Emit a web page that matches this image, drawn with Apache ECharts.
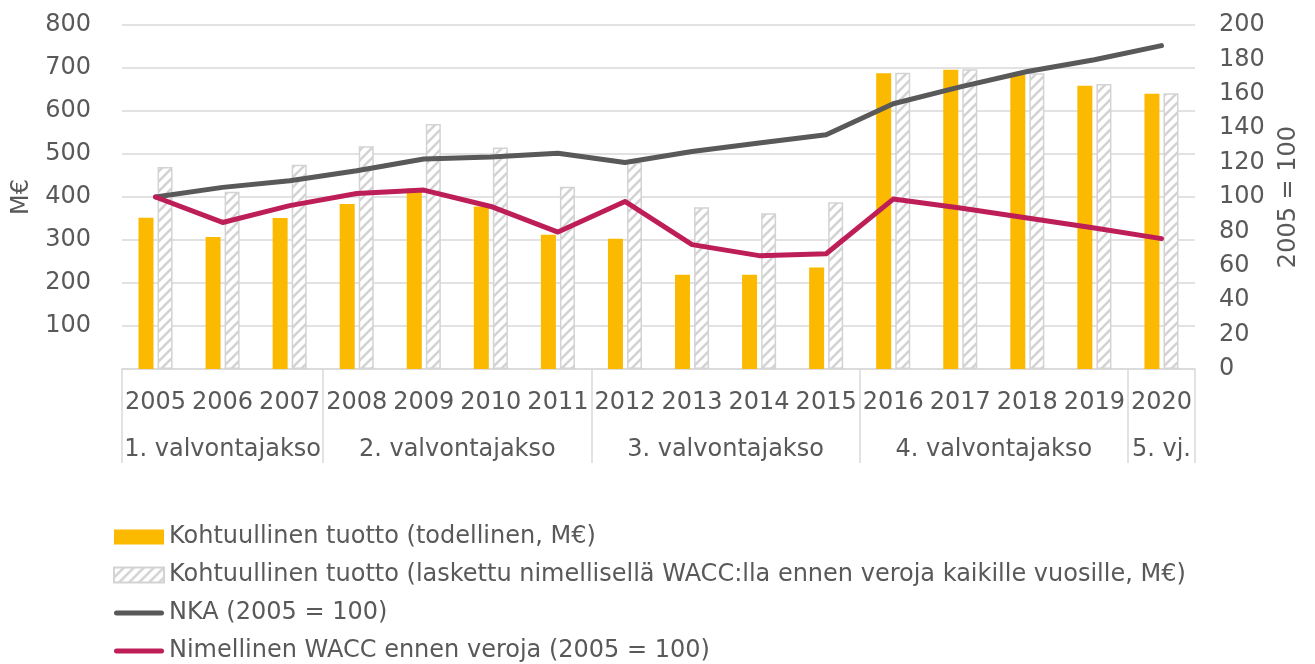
<!DOCTYPE html>
<html>
<head>
<meta charset="utf-8">
<script src="https://cdn.jsdelivr.net/npm/echarts@6/dist/echarts.min.js"></script>
<style>
html,body{margin:0;padding:0;background:#fff;}
#c{width:1315px;height:664px;}
</style>
</head>
<body>
<div id="c"></div>
<script>
const years = ['2005','2006','2007','2008','2009','2010','2011','2012','2013','2014','2015','2016','2017','2018','2019','2020'];
const periods = ['1. valvontajakso','2. valvontajakso','3. valvontajakso','4. valvontajakso','5. vj.'];
const periodLengths = [3,4,4,4,1];
const tuottoActual = [352,307,351,384,420,378,312,303,219,219,236,688,696,684,659,640];
const tuottoWacc = [470,412,475,518,570,515,424,480,376,362,388,689,697,688,663,641];
const nka = [100,105.6,109.5,115.3,122.1,123.2,125.4,120.1,126.5,131.4,136.2,154.2,164,173,179.8,188];
const wacc = [100,85.2,95,102,104,94.5,79.6,97.4,72.3,65.9,67,98.8,93.6,87.8,82,75.8];
const leftTicks = {min:0,max:800,interval:100};
const rightTicks = {min:0,max:200,interval:20};
const names = ['Kohtuullinen tuotto (todellinen, M€)',
  'Kohtuullinen tuotto (laskettu nimellisellä WACC:lla ennen veroja kaikille vuosille, M€)',
  'NKA (2005 = 100)',
  'Nimellinen WACC ennen veroja (2005 = 100)'];

const boundaries = [];
const centers = {};
let acc = 0;
periodLengths.forEach((len,i)=>{ boundaries.push(acc); centers[(acc + len/2).toFixed(2)] = periods[i]; acc += len; });

// hatch pattern
const P = 10;
const pc = document.createElement('canvas');
pc.width = P; pc.height = P;
const g = pc.getContext('2d');
g.fillStyle = '#ffffff'; g.fillRect(0,0,P,P);
g.strokeStyle = '#d3d3d3'; g.lineWidth = 2.6;
g.beginPath();
g.moveTo(-2,P+2); g.lineTo(P+2,-2);
g.moveTo(-2,2); g.lineTo(2,-2);
g.moveTo(P-2,P+2); g.lineTo(P+2,P-2);
g.stroke();

const FONT = 'DejaVu Sans';
const TXT = '#595959';
const FS = 24;
const lineIcon = 'path://M2.5,0 L47.5,0 A2.5,2.5 0 0 1 47.5,5 L2.5,5 A2.5,2.5 0 0 1 2.5,0 Z';
const chart = echarts.init(document.getElementById('c'), null, {renderer:'canvas'});
chart.setOption({
  animation:false,
  textStyle:{fontFamily:FONT},
  grid:{left:122,right:120,top:25,bottom:295,containLabel:false},
  legend:{
    orient:'vertical', left:113, top:525, height:160, padding:0,
    itemWidth:50, itemHeight:15, itemGap:14,
    textStyle:{fontFamily:FONT,fontSize:FS,color:TXT,lineHeight:24},
    data:[
      {name:names[0], icon:'rect'},
      {name:names[1], icon:'rect'},
      {name:names[2], icon:lineIcon},
      {name:names[3], icon:lineIcon}
    ]
  },
  xAxis:[{
    type:'category', data:years, boundaryGap:true,
    axisLine:{show:true,lineStyle:{color:'#d9d9d9',width:1.5}},
    axisTick:{show:true,length:94,lineStyle:{color:'#d9d9d9',width:1.5},
      interval:(idx)=>boundaries.indexOf(idx)>=0},
    axisLabel:{interval:0,margin:22,fontSize:FS,color:TXT,fontFamily:FONT}
  },{
    type:'value', min:0, max:years.length, interval:0.5, position:'bottom',
    axisLine:{show:false}, axisTick:{show:false}, splitLine:{show:false},
    axisLabel:{margin:69,fontSize:FS,color:TXT,fontFamily:FONT,showMinLabel:false,showMaxLabel:false,
      formatter:(v)=>centers[Number(v).toFixed(2)]||''}
  }],
  yAxis:[{
    type:'value', min:leftTicks.min, max:leftTicks.max, interval:leftTicks.interval,
    name:'M€', nameLocation:'middle', nameGap:88,
    nameTextStyle:{fontSize:FS,color:TXT,fontFamily:FONT},
    axisLine:{show:false}, axisTick:{show:false},
    splitLine:{lineStyle:{color:'#d9d9d9',width:1.5}},
    axisLabel:{margin:31,fontSize:FS,color:TXT,fontFamily:FONT,formatter:(v)=>v===0?'':String(v)}
  },{
    type:'value', min:rightTicks.min, max:rightTicks.max, interval:rightTicks.interval,
    name:'2005 = 100', nameLocation:'middle', nameGap:82,
    nameTextStyle:{fontSize:FS,color:TXT,fontFamily:FONT},
    axisLine:{show:false}, axisTick:{show:false}, splitLine:{show:false},
    axisLabel:{margin:24,fontSize:FS,color:TXT,fontFamily:FONT}
  }],
  series:[{
    name:names[0], type:'bar', data:tuottoActual, barWidth:15, barGap:'27%',
    itemStyle:{color:'#FBB900'}
  },{
    name:names[1], type:'bar', data:tuottoWacc, barWidth:15,
    itemStyle:{color:{image:pc,repeat:'repeat'}, borderColor:'#d3d3d3', borderWidth:1.5}
  },{
    name:names[2], type:'line', yAxisIndex:1, data:nka, symbol:'none',
    lineStyle:{color:'#595959',width:5,cap:'round',join:'round'}, itemStyle:{color:'#595959'}, z:5
  },{
    name:names[3], type:'line', yAxisIndex:1, data:wacc, symbol:'none',
    lineStyle:{color:'#BE1E58',width:5,cap:'round',join:'round'}, itemStyle:{color:'#BE1E58'}, z:6
  }]
});
</script>
</body>
</html>
